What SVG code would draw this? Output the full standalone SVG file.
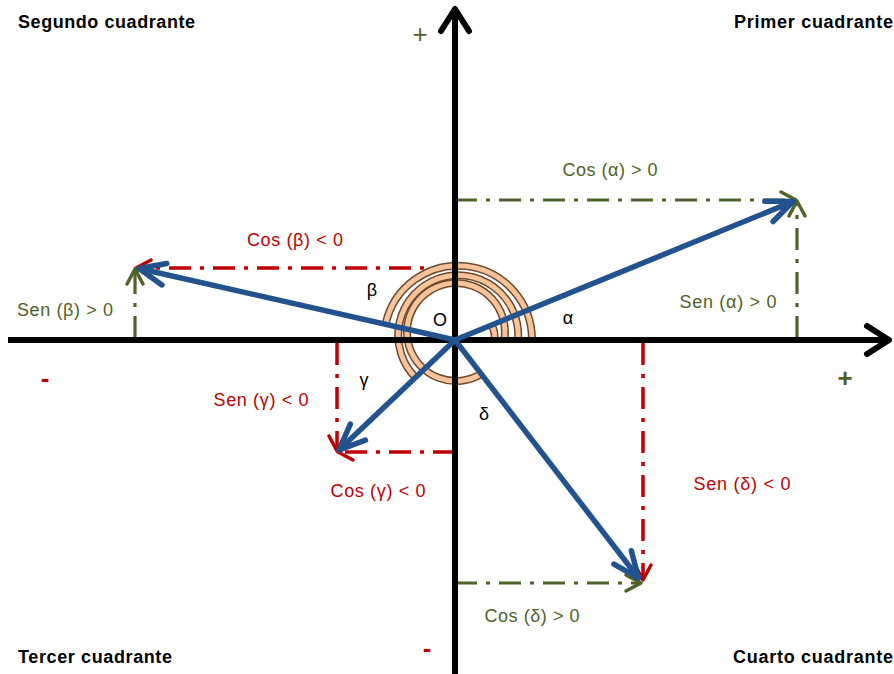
<svg xmlns="http://www.w3.org/2000/svg" width="894" height="674" viewBox="0 0 894 674">
<style>
.t{font-family:"Liberation Sans",Arial,sans-serif;font-size:18px;text-anchor:middle}
.q{font-family:"Liberation Sans",Arial,sans-serif;font-size:18px;font-weight:bold;fill:#000}
.g{fill:#4f6228}.r{fill:#c00000}.k{fill:#000}
.dg{fill:none;stroke:#4f6228;stroke-width:3.2;stroke-dasharray:22 9 4 9}
.dr{fill:none;stroke:#c00000;stroke-width:3.5;stroke-dasharray:22 9 4 9}
.ao{fill:none;stroke:#6b4a2e;stroke-width:8}
.ai{fill:none;stroke:#f6c39b;stroke-width:5}
.ax{fill:none;stroke:#000;stroke-width:6}
.v{fill:none;stroke:#23538f;stroke-width:5.5}
</style>
<defs>
<marker id="mb" markerUnits="userSpaceOnUse" markerWidth="60" markerHeight="60" viewBox="-30 -30 60 60" refX="0" refY="0" orient="auto" overflow="visible"><path d="M-26,-11 L0,0 L-26,11" fill="none" stroke="#23538f" stroke-width="5.5" stroke-linecap="round" stroke-linejoin="round"/></marker>
<marker id="mk" markerUnits="userSpaceOnUse" markerWidth="60" markerHeight="60" viewBox="-30 -30 60 60" refX="0" refY="0" orient="auto" overflow="visible"><path d="M-22,-14 L0,0 L-22,14" fill="none" stroke="#000" stroke-width="6" stroke-linecap="round" stroke-linejoin="round"/></marker>
<marker id="mg" markerUnits="userSpaceOnUse" markerWidth="40" markerHeight="40" viewBox="-20 -20 40 40" refX="0" refY="0" orient="auto" overflow="visible"><path d="M-15,-8 L0,0 L-15,8" fill="none" stroke="#4f6228" stroke-width="3.5" stroke-linecap="round" stroke-linejoin="round"/></marker>
<marker id="mr" markerUnits="userSpaceOnUse" markerWidth="40" markerHeight="40" viewBox="-20 -20 40 40" refX="0" refY="0" orient="auto" overflow="visible"><path d="M-15,-8 L0,0 L-15,8" fill="none" stroke="#c00000" stroke-width="3.5" stroke-linecap="round" stroke-linejoin="round"/></marker>
</defs>
<g id="connectors">
<path class="dg" d="M455,200 L796,200" marker-end="url(#mg)"/>
<path class="dg" d="M797,338 L797,201" marker-end="url(#mg)"/>
<path class="dr" d="M455,268 L136,268" marker-end="url(#mr)"/>
<path class="dg" d="M135,338 L135,269" marker-end="url(#mg)"/>
<path class="dr" d="M337,343 L337,451" marker-end="url(#mr)"/>
<path class="dr" d="M455,452 L338,452" marker-end="url(#mr)"/>
<path class="dr" d="M643,343 L643,580" marker-end="url(#mr)"/>
<path class="dg" d="M455,583 L641,583" marker-end="url(#mg)"/>
</g>
<g id="arcs">
<path class="ao" d="M532,340 A74,74 0 0 0 385.6,324.4"/>
<path class="ai" d="M532,340 A74,74 0 0 0 385.6,324.4"/>
<path class="ao" d="M518,340 A60,60 0 1 0 415.7,377.6"/>
<path class="ai" d="M518,340 A60,60 0 1 0 415.7,377.6"/>
<path class="ao" d="M504.3,340 A49,49 0 1 0 481.2,374"/>
<path class="ai" d="M504.3,340 A49,49 0 1 0 481.2,374"/>
<path class="ao" d="M495,340 A40,40 0 0 0 492,324.8"/>
<path class="ai" d="M495,340 A40,40 0 0 0 492,324.8"/>
</g>
<g id="axes">
<path class="ax" d="M8,340 L889,340" marker-end="url(#mk)"/>
<path class="ax" d="M455,674 L455,9" marker-end="url(#mk)"/>
</g>
<g id="vectors">
<path class="v" d="M455,340 L793,201.5" marker-end="url(#mb)"/>
<path class="v" d="M455,340 L139,268.5" marker-end="url(#mb)"/>
<path class="v" d="M455,340 L339,450" marker-end="url(#mb)"/>
<path class="v" d="M455,340 L638.5,578" marker-end="url(#mb)"/>
</g>
<g id="labels">
<text class="t g" x="610" y="176" textLength="95">Cos (α) &gt; 0</text>
<text class="t g" x="728" y="308" textLength="97">Sen (α) &gt; 0</text>
<text class="t r" x="295" y="246" textLength="96">Cos (β) &lt; 0</text>
<text class="t g" x="65" y="316" textLength="96">Sen (β) &gt; 0</text>
<text class="t r" x="261" y="406" textLength="95">Sen (γ) &lt; 0</text>
<text class="t r" x="378" y="497" textLength="95">Cos (γ) &lt; 0</text>
<text class="t r" x="742" y="490" textLength="97">Sen (δ) &lt; 0</text>
<text class="t g" x="532" y="622" textLength="95">Cos (δ) &gt; 0</text>
<text class="t k" x="372" y="296">β</text>
<text class="t k" x="440" y="326">O</text>
<text class="t k" x="568" y="324">α</text>
<text class="t k" x="364" y="386">γ</text>
<text class="t k" x="484" y="420">δ</text>
<text class="t g" x="420" y="43" style="font-size:26px">+</text>
<text class="t g" x="845" y="387" style="font-size:26px;font-weight:bold">+</text>
<text class="t r" x="45" y="387" style="font-size:26px;font-weight:bold">-</text>
<text class="t r" x="427" y="657" style="font-size:26px;font-weight:bold">-</text>
</g>
<g id="quadrants">
<text class="q" x="18" y="28" textLength="177">Segundo cuadrante</text>
<text class="q" x="734" y="28" textLength="159">Primer cuadrante</text>
<text class="q" x="18" y="663" textLength="154">Tercer cuadrante</text>
<text class="q" x="733" y="663" textLength="160">Cuarto cuadrante</text>
</g>
</svg>
